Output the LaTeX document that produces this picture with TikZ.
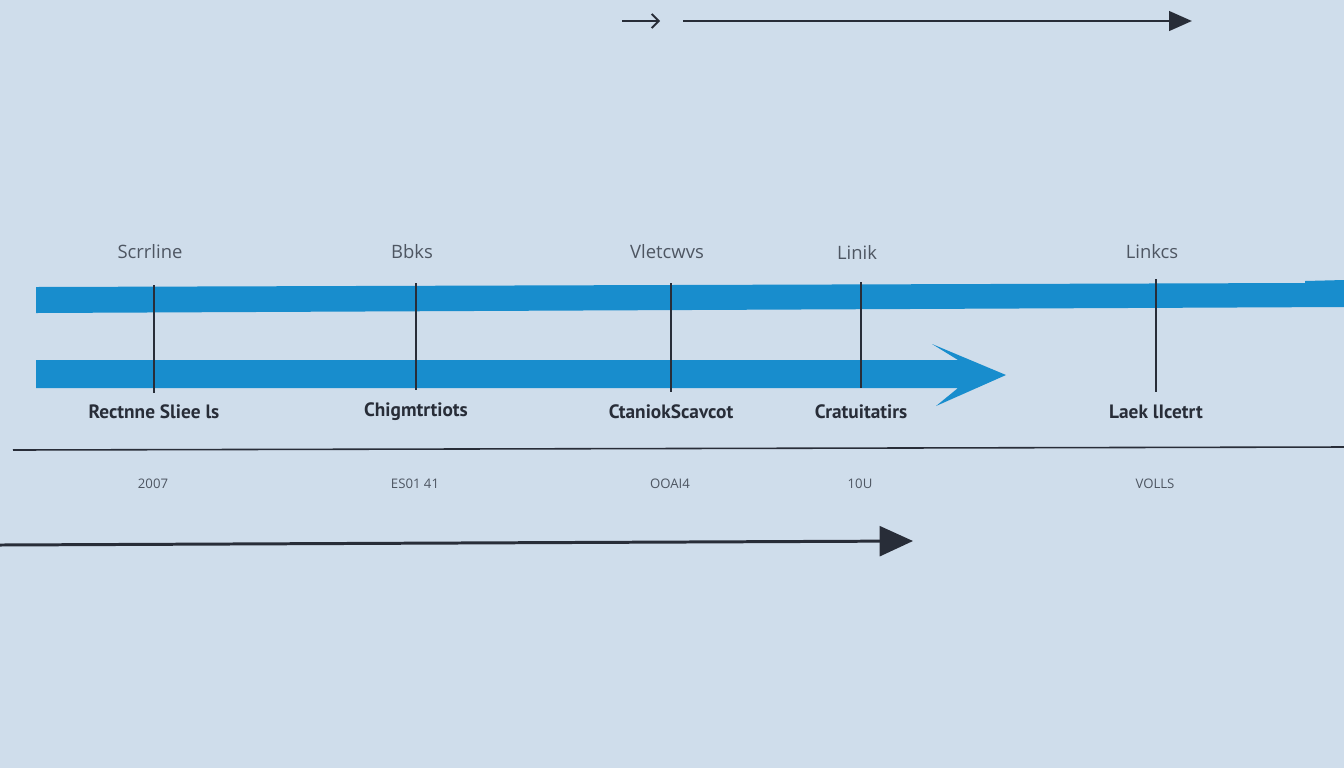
\documentclass[tikz,border=0pt]{standalone}
\usepackage{fontspec}
\setmainfont{Open Sans}
\newfontfamily\labfont{PT Sans}
\usetikzlibrary{arrows.meta}

\definecolor{bgfill}{RGB}{207,221,235}
\definecolor{barblue}{RGB}{24,141,205}
\definecolor{inkdark}{RGB}{40,45,56}
\definecolor{inkgray}{RGB}{78,86,98}

\tikzset{
  toplabel/.style={text=inkgray, font=\fontsize{10.5}{12}\selectfont},
  boldlabel/.style={text=inkdark, font=\labfont\bfseries\fontsize{11}{13}\selectfont},
  yearlabel/.style={text=inkgray, font=\fontsize{7.5}{9}\selectfont},
  tickline/.style={inkdark, line width=1.2pt},
}

\begin{document}
\begin{tikzpicture}[x=0.02cm, y=-0.02cm]
            \fill[bgfill] (0,0) rectangle (1344,768);
            \useasboundingbox (0,0) rectangle (1344,768);

            % top arrows
            \coordinate (sa) at (622,21);
            \coordinate (sb) at (660,21);
            \coordinate (la) at (683,21);
            \coordinate (lb) at (1192,21);
            \draw[inkdark, line width=1.1pt, -{Straight Barb[length=4pt, width=8pt]}] (sa) -- (sb);
            \draw[inkdark, line width=1.7pt, -{Triangle[length=13pt, width=11pt]}] (la) -- (lb);

            % blue bars
            \fill[barblue] (36,287) -- (1305,283) -- (1305,281) -- (1344,280) -- (1344,307) -- (36,313) -- cycle;
            \fill[barblue] (36,360) -- (958,360) -- (932,344) -- (1006,375) -- (936,406) -- (958,388) -- (36,388) -- cycle;

            % ticks and labels
            \foreach \x/\ya/\yb/\top/\bot/\yr [count=\i] in {
                154/285/393/Scrrline/Rectnne Sliee ls/2007,
                416/283/390/Bbks/Chigmtrtiots/ES01 41,
                671/283/392/Vletcwvs/CtaniokScavcot/OOAI4,
                861/282/388/Linik/Cratuitatirs/10U,
                1156/279/392/Linkcs/Laek lIcetrt/VOLLS} {
              \draw[tickline] (\x,\ya) -- (\x,\yb);
              \node[toplabel] (top\i) at (\x-4,252) {\top};
              \node[boldlabel] (bot\i) at (\x,412) {\bot};
              \node[yearlabel] (yr\i) at (\x-1,484) {\yr};
            }

            % base line
            \draw[inkdark, line width=0.9pt] (13,450) -- (1344,447);

            % bottom arrow
            \coordinate (ba) at (0,545);
            \coordinate (bb) at (913,541);
            \draw[inkdark, line width=1.7pt, -{Triangle[length=19pt, width=17pt]}] (ba) -- (bb);
        \end{tikzpicture}
\end{document}
